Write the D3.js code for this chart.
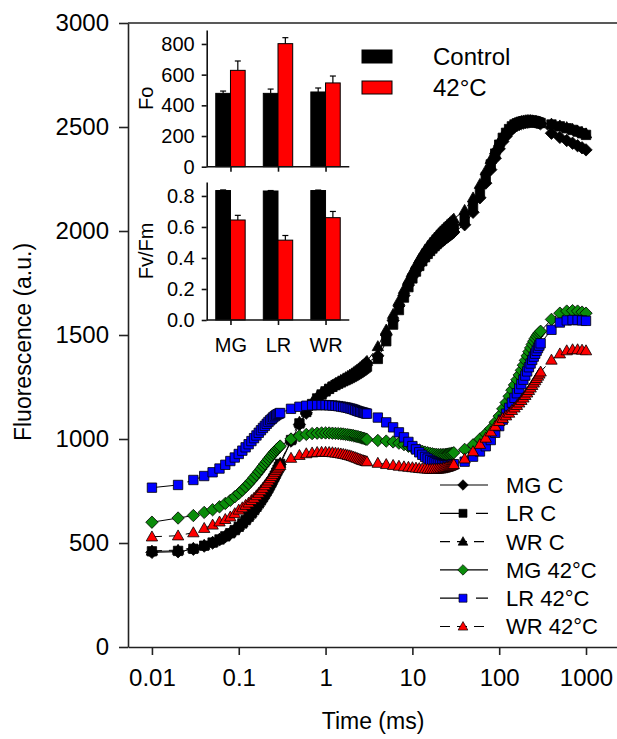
<!DOCTYPE html>
<html>
<head>
<meta charset="utf-8">
<script src="https://cdn.jsdelivr.net/npm/d3@7"></script>
<style>
body { margin: 0; background: #fff; }
svg { display: block; }
text { font-family: "Liberation Sans", Arial, sans-serif; fill: #000; }
</style>
</head>
<body>
<div id="chart"></div>
<script>
// OJIP transient time points (ms)
const times = [
  0.01,0.02,0.03,0.04,0.05,0.06,0.07,0.08,0.09,0.10,0.11,0.12,0.13,0.14,0.15,
  0.16,0.17,0.18,0.19,0.20,0.21,0.22,0.23,0.24,0.25,0.26,0.27,0.28,0.29,0.30,
  0.4,0.5,0.6,0.7,0.8,0.9,1.0,1.1,1.2,1.3,1.4,1.5,1.6,1.7,1.8,1.9,2.0,2.1,2.2,
  2.3,2.4,2.5,2.6,2.7,2.8,2.9,3.0,
  4,5,6,7,8,9,10,11,12,13,14,15,16,17,18,19,20,21,22,23,24,25,26,27,28,29,30,
  40,50,60,70,80,90,100,110,120,130,140,150,160,170,180,190,200,210,220,230,
  240,250,260,270,280,290,300,
  400,500,600,700,800,900,1000
];

const mgC = [
  455,458,470,485,500,515,530,545,560,576,592,608,624,640,656,
  672,688,703,718,733,748,763,778,793,808,822,836,850,864,878,
  990,1070,1125,1165,1192,1212,1228,1240,1250,1259,1267,1274,1281,1287,1293,1299,1305,1311,1317,
  1323,1329,1335,1341,1347,1353,1359,1365,
  1400,1500,1570,1640,1690,1740,1780,1810,1835,1855,1872,1887,1900,1911,1921,1930,1938,1945,1952,1958,1964,1970,1975,1980,1985,1990,1995,
  2030,2090,2160,2230,2295,2350,2395,2430,2455,2475,2490,2500,2507,2512,2516,2519,2521,2523,2524,2525,
  2525,2525,2524,2523,2521,2519,2516,
  2470,2450,2435,2422,2410,2400,2390
];

const lrC = [
  460,462,472,487,502,517,532,547,562,578,594,610,626,642,658,
  674,690,705,720,735,750,765,780,795,810,824,838,852,866,880,
  995,1075,1130,1168,1195,1214,1229,1241,1251,1259,1266,1272,1278,1283,1288,1293,1298,1303,1308,
  1313,1318,1323,1328,1333,1338,1343,1348,
  1385,1470,1550,1620,1680,1730,1772,1805,1832,1855,1874,1890,1904,1916,1927,1937,1946,1954,1962,1969,1976,1982,1988,1994,2000,2005,2010,
  2060,2120,2190,2260,2320,2372,2415,2448,2472,2490,2503,2512,2518,2522,2525,2527,2528,2529,2529,2529,
  2528,2527,2526,2525,2523,2521,2519,
  2512,2503,2494,2486,2478,2470,2462
];

const wrC = [
  462,466,476,490,505,520,536,552,568,584,600,616,632,648,664,
  680,696,712,727,742,757,772,787,802,816,830,844,858,871,884,
  1000,1082,1138,1176,1203,1222,1237,1249,1259,1268,1276,1283,1290,1296,1302,1308,1314,1320,1326,
  1332,1338,1344,1350,1356,1362,1368,1374,
  1445,1525,1600,1665,1720,1766,1805,1838,1866,1890,1910,1927,1942,1955,1967,1978,1988,1997,2005,2013,2020,2027,2034,2040,2046,2052,2058,
  2100,2160,2225,2290,2345,2390,2428,2458,2480,2496,2507,2515,2521,2525,2528,2530,2531,2532,2532,2532,
  2531,2530,2529,2528,2526,2524,2522,
  2515,2506,2498,2490,2482,2475,2468
];

const mgHeat = [
  600,620,632,647,660,674,690,705,722,738,754,770,785,800,815,
  829,843,856,869,881,892,903,913,922,931,939,947,954,960,966,
  1000,1015,1022,1026,1028,1029,1029,1029,1028,1027,1026,1025,1024,1022,1021,1019,1018,1016,1014,
  1012,1010,1008,1006,1004,1002,1000,998,
  993,990,986,980,973,965,958,952,946,941,937,934,931,929,927,926,925,925,925,925,926,927,928,929,930,932,934,
  950,972,1000,1025,1050,1080,1110,1145,1175,1205,1235,1260,1285,1308,1330,1355,1378,1400,1420,1438,
  1455,1470,1483,1494,1503,1511,1518,
  1575,1605,1615,1617,1615,1610,1605
];

const lrHeat = [
  766,779,803,822,840,858,876,894,911,928,944,960,975,990,1004,
  1017,1030,1042,1053,1063,1073,1082,1090,1097,1104,1110,1115,1119,1122,1125,
  1145,1155,1160,1162,1163,1163,1163,1162,1161,1160,1158,1156,1154,1152,1150,1147,1145,1142,1139,
  1136,1133,1131,1129,1127,1125,1123,1122,
  1103,1080,1056,1032,1008,986,966,950,936,924,914,906,899,893,888,884,881,878,876,875,874,873,873,874,875,877,879,
  891,915,940,965,995,1030,1062,1093,1122,1150,1175,1198,1220,1242,1264,1285,1305,1325,1345,1363,
  1380,1396,1410,1424,1437,1449,1460,
  1525,1560,1570,1572,1572,1570,1568
];

const wrHeat = [
  530,535,550,571,587,602,614,626,642,659,670,682,693,705,716,
  728,740,752,764,776,788,799,810,821,831,841,850,858,866,873,
  908,922,930,934,936,937,937,936,935,933,931,929,927,925,922,920,917,914,911,
  908,905,902,899,897,895,893,891,
  884,878,874,870,867,865,863,861,859,858,857,856,855,855,855,855,856,857,858,860,862,864,866,869,872,875,878,
  905,940,975,1005,1035,1062,1085,1100,1112,1125,1138,1150,1162,1174,1186,1198,1210,1222,1234,1246,
  1258,1270,1281,1292,1303,1313,1323,
  1380,1410,1425,1430,1430,1428,1425
];

const seriesNames = ["MG C", "LR C", "WR C", "MG 42°C", "LR 42°C", "WR 42°C"];
const xTicks = [0.01, 0.1, 1, 10, 100, 1000];
const yTicks = [0, 500, 1000, 1500, 2000, 2500, 3000];

// inset bar data
const sites = ["MG", "LR", "WR"];
const treatments = ["Control", "42°C"];
const foControl = [478, 478, 487];
const foControlErr = [15, 28, 26];
const foHeat = [628, 802, 546];
const foHeatErr = [61, 39, 45];
const fvfmControl = [0.835, 0.832, 0.835];
const fvfmControlErr = [0.004, 0.003, 0.003];
const fvfmHeat = [0.645, 0.515, 0.66];
const fvfmHeatErr = [0.03, 0.03, 0.04];
const foTicks = [0, 200, 400, 600, 800];
const fvfmTicks = [0, 0.2, 0.4, 0.6, 0.8];

const W = 617, H = 739;
const svg = d3.select("#chart").append("svg")
  .attr("width", W).attr("height", H);

// main scales
const x = d3.scaleLog().domain([0.0053, 2275]).range([128, 617]);
const y = d3.scaleLinear().domain([0, 3000]).range([647, 23]);

const green = "#0a8c0a", blue = "#0000ff", red = "#ff0000";
const styles = [
  {fill: "#000", shape: "diamond", dash: null},
  {fill: "#000", shape: "square", dash: "22,14"},
  {fill: "#000", shape: "triangle", dash: "10,7"},
  {fill: green, shape: "diamond", dash: null},
  {fill: blue, shape: "square", dash: "22,14"},
  {fill: red, shape: "triangle", dash: "10,7"}
];
const shapes = {
  diamond: "M0,-6.2L6.2,0L0,6.2L-6.2,0Z",
  square: "M-4.7,-4.7H4.7V4.7H-4.7Z",
  triangle: "M0,-5.8L5.7,4.2H-5.7Z"
};
const allSeries = [mgC, lrC, wrC, mgHeat, lrHeat, wrHeat];

// axes
const xAxis = svg.append("g")
  .attr("transform", "translate(0,647)")
  .call(d3.axisBottom(x).tickValues(xTicks).tickFormat(d => String(d))
    .tickSize(8).tickSizeOuter(0).tickPadding(14));
const yAxis = svg.append("g")
  .attr("transform", "translate(128,0)")
  .call(d3.axisLeft(y).tickValues(yTicks).tickFormat(d3.format("d"))
    .tickSize(9).tickSizeOuter(0).tickPadding(10));
[xAxis, yAxis].forEach(g => {
  g.selectAll("path, line").attr("stroke", "#222").attr("stroke-width", 1.6);
  g.selectAll("text").style("font-size", "24px").attr("fill", "#000");
});
svg.append("line")
  .attr("x1", 128).attr("x2", 617).attr("y1", 23).attr("y2", 23)
  .attr("stroke", "#222").attr("stroke-width", 1.6);

svg.append("text")
  .attr("transform", "translate(31,342) rotate(-90)")
  .attr("text-anchor", "middle")
  .style("font-size", "23px")
  .text("Fluorescence (a.u.)");
svg.append("text")
  .attr("x", 373).attr("y", 729)
  .attr("text-anchor", "middle")
  .style("font-size", "23px")
  .text("Time (ms)");

// curves
const line = d3.line().x((d, i) => x(times[i])).y(d => y(d));
allSeries.forEach((vals, k) => {
  const st = styles[k];
  const g = svg.append("g");
  g.append("path")
    .attr("d", line(vals))
    .attr("fill", "none")
    .attr("stroke", "#000")
    .attr("stroke-width", 1)
    .attr("stroke-dasharray", st.dash);
  g.selectAll("path.pt")
    .data(vals)
    .enter().append("path")
    .attr("class", "pt")
    .attr("d", shapes[st.shape])
    .attr("transform", (d, i) => `translate(${x(times[i])},${y(d)})`)
    .attr("fill", st.fill)
    .attr("stroke", "#000")
    .attr("stroke-width", 0.8);
});

// main legend
const leg = svg.append("g");
seriesNames.forEach((name, k) => {
  const st = styles[k];
  const yy = 485 + k * 28.3;
  leg.append("line")
    .attr("x1", 440).attr("x2", 488).attr("y1", yy).attr("y2", yy)
    .attr("stroke", "#000").attr("stroke-width", 1.2)
    .attr("stroke-dasharray", st.dash);
  leg.append("path")
    .attr("d", shapes[st.shape])
    .attr("transform", `translate(463,${yy}) scale(0.85)`)
    .attr("fill", st.fill).attr("stroke", "#000").attr("stroke-width", 0.8);
  leg.append("text")
    .attr("x", 506).attr("y", yy).attr("dy", "0.36em")
    .style("font-size", "22px")
    .text(name);
});

// inset bar charts
const xs = d3.scalePoint().domain(sites).range([206.7, 349.3]).padding(0.5);
const xt = d3.scaleBand().domain(treatments).range([-14.7, 14.7]).padding(0);
const barColor = d3.scaleOrdinal().domain(treatments).range(["#000", red]);

function barPanel(yScale, ticks, fmt, ctrl, ctrlErr, heat, heatErr, label, showLabels) {
  const g = svg.append("g");
  const rows = [];
  sites.forEach((s, i) => {
    rows.push({site: s, t: treatments[0], v: ctrl[i], e: ctrlErr[i]});
    rows.push({site: s, t: treatments[1], v: heat[i], e: heatErr[i]});
  });
  // error bars (upper only)
  g.selectAll("line.err").data(rows).enter().append("line")
    .attr("x1", d => xs(d.site) + xt(d.t) + xt.bandwidth() / 2)
    .attr("x2", d => xs(d.site) + xt(d.t) + xt.bandwidth() / 2)
    .attr("y1", d => yScale(d.v)).attr("y2", d => yScale(d.v + d.e))
    .attr("stroke", "#000").attr("stroke-width", 1.2);
  g.selectAll("line.cap").data(rows).enter().append("line")
    .attr("x1", d => xs(d.site) + xt(d.t) + xt.bandwidth() / 2 - 3)
    .attr("x2", d => xs(d.site) + xt(d.t) + xt.bandwidth() / 2 + 3)
    .attr("y1", d => yScale(d.v + d.e)).attr("y2", d => yScale(d.v + d.e))
    .attr("stroke", "#000").attr("stroke-width", 1.2);
  g.selectAll("rect").data(rows).enter().append("rect")
    .attr("x", d => xs(d.site) + xt(d.t))
    .attr("width", xt.bandwidth())
    .attr("y", d => yScale(d.v))
    .attr("height", d => yScale(0) - yScale(d.v))
    .attr("fill", d => barColor(d.t))
    .attr("stroke", "#000").attr("stroke-width", 1);
  const ya = g.append("g")
    .attr("transform", "translate(206.7,0)")
    .call(d3.axisLeft(yScale).tickValues(ticks).tickFormat(fmt).tickSize(5).tickSizeOuter(0).tickPadding(7));
  const xa = g.append("g")
    .attr("transform", `translate(0,${yScale(0)})`)
    .call(d3.axisBottom(xs).tickSize(5).tickSizeOuter(0).tickPadding(13)
      .tickFormat(showLabels ? (d => d) : () => ""));
  xa.select(".domain").attr("d", `M206.7,0H349.3`);
  [ya, xa].forEach(a => {
    a.selectAll("path, line").attr("stroke", "#111").attr("stroke-width", 1.6);
    a.selectAll("text").style("font-size", "20px").attr("fill", "#000");
  });
  const [r0, r1] = yScale.range();
  g.append("text")
    .attr("transform", `translate(153,${(r0 + r1) / 2}) rotate(-90)`)
    .attr("text-anchor", "middle")
    .style("font-size", "20px")
    .text(label);
}

const yFo = d3.scaleLinear().domain([0, 891]).range([166.7, 30]);
const yFv = d3.scaleLinear().domain([0, 0.89]).range([320, 182]);
barPanel(yFo, foTicks, d3.format("d"), foControl, foControlErr, foHeat, foHeatErr, "Fo", false);
barPanel(yFv, fvfmTicks, d3.format(".1f"), fvfmControl, fvfmControlErr, fvfmHeat, fvfmHeatErr, "Fv/Fm", true);

// inset legend
treatments.forEach((t, i) => {
  svg.append("rect")
    .attr("x", 362).attr("y", 50 + i * 31)
    .attr("width", 30).attr("height", 13)
    .attr("fill", barColor(t)).attr("stroke", "#000").attr("stroke-width", 1);
  svg.append("text")
    .attr("x", 433).attr("y", 56.5 + i * 31).attr("dy", "0.36em")
    .style("font-size", "24px")
    .text(t);
});
</script>
</body>
</html>
